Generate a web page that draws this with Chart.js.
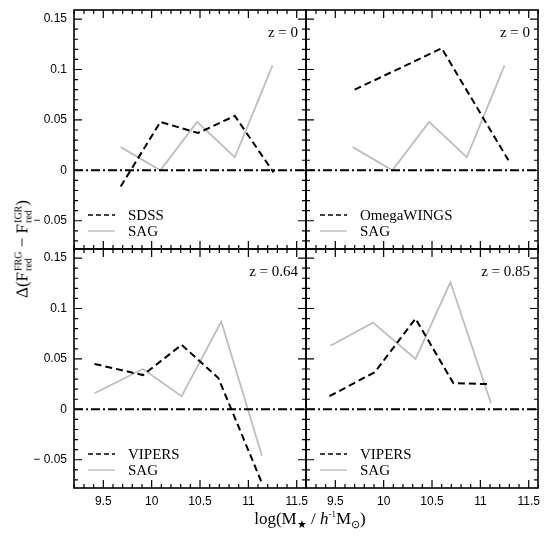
<!DOCTYPE html>
<html>
<head>
<meta charset="utf-8">
<script src="https://cdn.jsdelivr.net/npm/chart.js@4.4.0/dist/chart.umd.min.js"></script>
<style>
  body { margin: 0; background: #fff; }
  #wrap { position: relative; width: 545px; height: 538px; }
  canvas { position: absolute; left: 0; top: 0; }
  .ttl { position: absolute; font-family: "Liberation Serif", serif; font-size: 17px; color: #000; white-space: nowrap; transform: translate(-50%, -50%); }
  .ss { display: inline-flex; flex-direction: column; vertical-align: 6px; font-size: 10px; line-height: 10px; margin-left: 1px; }
  .sub { font-size: 11px; vertical-align: -4px; }
  .sup { font-size: 9px; vertical-align: 7px; }
</style>
</head>
<body>
<div id="wrap">
  <canvas id="tl" width="545" height="538"></canvas>
  <canvas id="tr" width="545" height="538"></canvas>
  <canvas id="bl" width="545" height="538"></canvas>
  <canvas id="br" width="545" height="538"></canvas>
  <div class="ttl" style="left:23px;top:249px;transform:translate(-50%,-50%) rotate(-90deg);">Δ(F<span class="ss"><span>FRG</span><span>red</span></span> − F<span class="ss"><span>IGR</span><span>red</span></span>)</div>
  <div class="ttl" style="left:310px;top:520px;">log(M<span class="sub">★</span> / <i>h</i><span class="sup">-1</span>M<span class="sub">⊙</span>)</div>
</div>
<script>
// axis limits and ticks
const xMin = 9.197, xMax = 11.596;
const yMin = -0.078, yMax = 0.159;
const xTicks = [9.5, 10, 10.5, 11, 11.5];
const xTickLabels = ['9.5', '10', '10.5', '11', '11.5'];
const yTicks = [-0.05, 0, 0.05, 0.1, 0.15];
const yTickLabels = ['\u2212 0.05', '0', '0.05', '0.1', '0.15'];

// z = 0
const sdssMass = [9.68, 10.09, 10.48, 10.86, 11.26];
const sdss = [-0.016, 0.048, 0.037, 0.054, -0.002];
const owMass = [9.70, 10.60, 11.29];
const omegaWings = [0.080, 0.121, 0.010];
const sagMassZ0 = [9.68, 10.09, 10.47, 10.86, 11.25];
const sagZ0 = [0.023, 0.0, 0.048, 0.013, 0.104];

// z = 0.64
const vipersMassZ064 = [9.41, 9.91, 10.31, 10.69, 11.14];
const vipersZ064 = [0.045, 0.034, 0.064, 0.031, -0.073];
const sagMassZ064 = [9.41, 9.91, 10.31, 10.72, 11.14];
const sagZ064 = [0.016, 0.040, 0.013, 0.087, -0.046];

// z = 0.85
const vipersMassZ085 = [9.44, 9.91, 10.33, 10.72, 11.08];
const vipersZ085 = [0.013, 0.037, 0.090, 0.026, 0.025];
const sagMassZ085 = [9.45, 9.89, 10.33, 10.69, 11.11];
const sagZ085 = [0.063, 0.086, 0.050, 0.126, 0.006];

const W = 545, H = 538;
const pts = (xs, ys) => xs.map((x, i) => ({x: x, y: ys[i]}));
const grey = 'rgb(190,190,190)';

// frame, inward ticks, z label and legend
const framePlugin = {
  id: 'frame',
  afterDraw(chart, args, o) {
    const {ctx, chartArea: a, scales: {x, y}} = chart;
    ctx.save();
    ctx.setLineDash([]);
    ctx.strokeStyle = '#000';
    ctx.lineWidth = 1.2;
    for (let k = 92; k <= 116; k++) {
      const px = x.getPixelForValue(k / 10);
      const len = k % 5 === 0 ? 8 : 4;
      ctx.beginPath();
      ctx.moveTo(px, a.bottom); ctx.lineTo(px, a.bottom - len);
      ctx.moveTo(px, a.top); ctx.lineTo(px, a.top + len);
      ctx.stroke();
    }
    for (let k = -7; k <= 15; k++) {
      const py = y.getPixelForValue(k / 100);
      const len = k % 5 === 0 ? 8 : 4;
      ctx.beginPath();
      ctx.moveTo(a.left, py); ctx.lineTo(a.left + len, py);
      ctx.moveTo(a.right, py); ctx.lineTo(a.right - len, py);
      ctx.stroke();
    }
    ctx.lineWidth = 1.6;
    ctx.strokeRect(a.left, a.top, a.right - a.left, a.bottom - a.top);

    ctx.fillStyle = '#000';
    ctx.font = '15px "Liberation Serif"';
    ctx.textAlign = 'right';
    ctx.textBaseline = 'alphabetic';
    ctx.fillText(o.z, a.right - 8, a.top + 27);

    ctx.textAlign = 'left';
    ctx.lineWidth = 1.4;
    ctx.setLineDash([5, 3]);
    ctx.beginPath();
    ctx.moveTo(a.left + 14, a.bottom - 34); ctx.lineTo(a.left + 41, a.bottom - 34);
    ctx.stroke();
    ctx.setLineDash([]);
    ctx.strokeStyle = grey;
    ctx.beginPath();
    ctx.moveTo(a.left + 14, a.bottom - 18); ctx.lineTo(a.left + 41, a.bottom - 18);
    ctx.stroke();
    ctx.fillText(o.names[0], a.left + 54, a.bottom - 29);
    ctx.fillText(o.names[1], a.left + 54, a.bottom - 13);
    ctx.restore();
  }
};

function makePanel(id, area, showX, showY, obs, obsName, sag, zText) {
  new Chart(document.getElementById(id), {
    type: 'line',
    data: {
      datasets: [
        {data: [{x: xMin, y: 0}, {x: xMax, y: 0}], borderColor: '#000', borderWidth: 2, borderDash: [9, 3, 2, 3], order: 0},
        {data: obs, borderColor: '#000', borderWidth: 2, borderDash: [7, 4], order: 1},
        {data: sag, borderColor: grey, borderWidth: 1.8, order: 2}
      ]
    },
    options: {
      responsive: false,
      animation: false,
      devicePixelRatio: 1,
      events: [],
      elements: {point: {radius: 0}, line: {tension: 0}},
      layout: {padding: {
        left: showY ? 0 : area.left,
        right: W - area.right,
        top: area.top,
        bottom: showX ? 0 : H - area.bottom
      }},
      plugins: {
        legend: {display: false},
        tooltip: {enabled: false},
        frame: {z: zText, names: [obsName, 'SAG']}
      },
      scales: {
        x: {
          type: 'linear', min: xMin, max: xMax, display: showX,
          grid: {display: false, drawTicks: false}, border: {display: false},
          afterBuildTicks: s => { s.ticks = xTicks.map(v => ({value: v})); },
          afterFit: s => {
            if (showX) s.height = H - area.bottom;
            s.paddingLeft = 0; s.paddingRight = 0;
          },
          ticks: {
            padding: 6, color: '#000', maxRotation: 0, autoSkip: false,
            font: {family: '"Liberation Sans"', size: 12},
            callback: (v) => xTickLabels[xTicks.indexOf(v)]
          }
        },
        y: {
          type: 'linear', min: yMin, max: yMax, display: showY,
          grid: {display: false, drawTicks: false}, border: {display: false},
          afterBuildTicks: s => { s.ticks = yTicks.map(v => ({value: v})); },
          afterFit: s => {
            if (showY) s.width = area.left;
            s.paddingTop = 0; s.paddingBottom = 0;
          },
          ticks: {
            padding: 7, color: '#000', autoSkip: false,
            font: {family: '"Liberation Sans"', size: 12},
            callback: (v) => yTickLabels[yTicks.indexOf(v)]
          }
        }
      }
    },
    plugins: [framePlugin]
  });
}

makePanel('tl', {left: 74, right: 306, top: 10, bottom: 249}, false, true,
  pts(sdssMass, sdss), 'SDSS', pts(sagMassZ0, sagZ0), 'z = 0');
makePanel('tr', {left: 306, right: 538, top: 10, bottom: 249}, false, false,
  pts(owMass, omegaWings), 'OmegaWINGS', pts(sagMassZ0, sagZ0), 'z = 0');
makePanel('bl', {left: 74, right: 306, top: 249, bottom: 488}, true, true,
  pts(vipersMassZ064, vipersZ064), 'VIPERS', pts(sagMassZ064, sagZ064), 'z = 0.64');
makePanel('br', {left: 306, right: 538, top: 249, bottom: 488}, true, false,
  pts(vipersMassZ085, vipersZ085), 'VIPERS', pts(sagMassZ085, sagZ085), 'z = 0.85');
</script>
</body>
</html>
